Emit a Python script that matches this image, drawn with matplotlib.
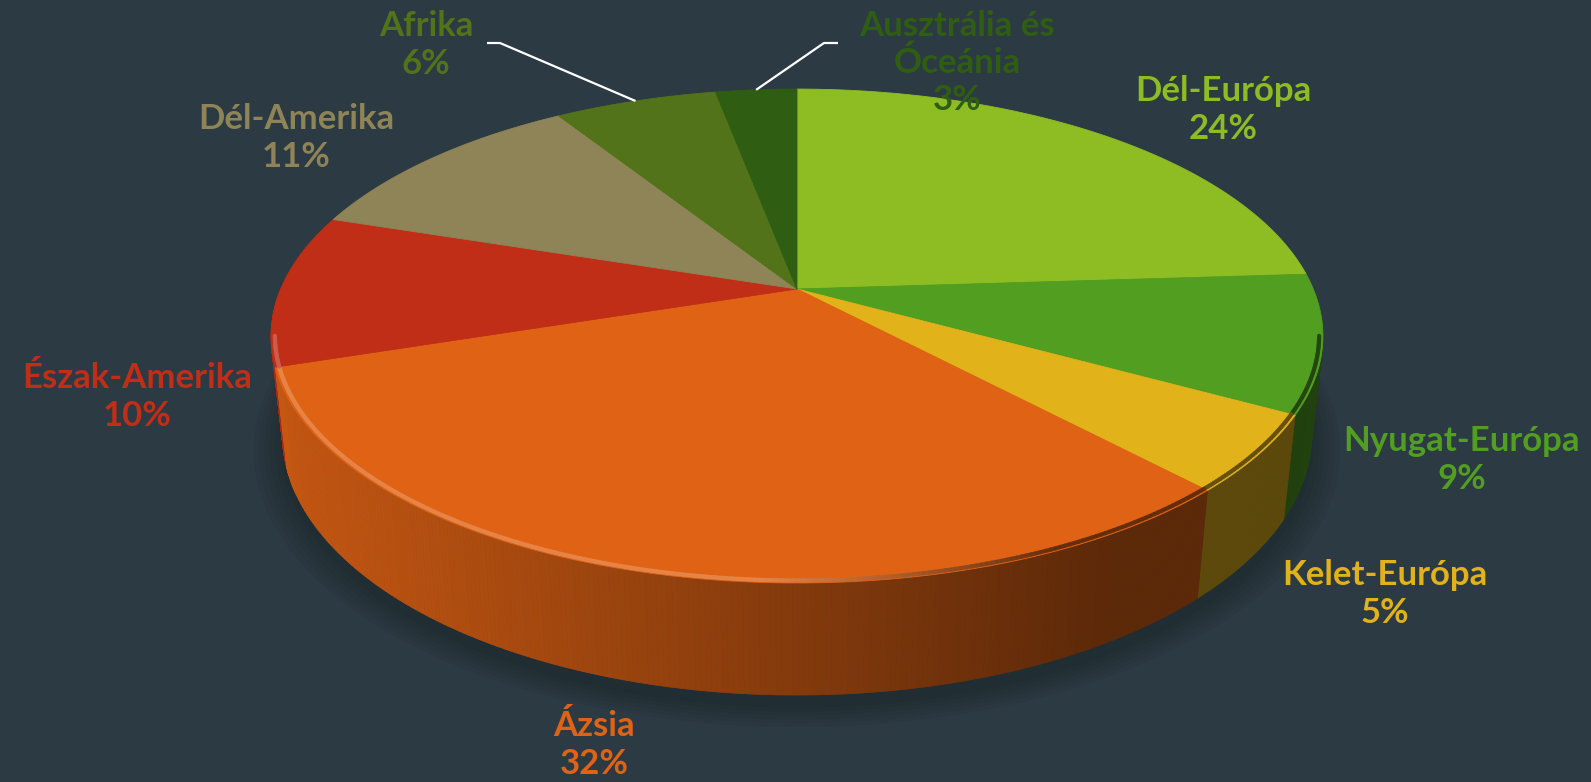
import numpy as np
import matplotlib
matplotlib.use('Agg')
import matplotlib.pyplot as plt
from matplotlib.collections import PolyCollection, LineCollection
from matplotlib.patches import Polygon
from matplotlib.colors import to_rgb

# ---------------- data ----------------
categories = ['Dél-Európa', 'Nyugat-Európa', 'Kelet-Európa', 'Ázsia',
              'Észak-Amerika', 'Dél-Amerika', 'Afrika', 'Ausztrália és\nÓceánia']
values = [24, 9, 5, 32, 10, 11, 6, 3]
colors = ['#8dbd23', '#519e21', '#e2b21a', '#e06315',
          '#c02e17', '#8e8457', '#527319', '#2f5e12']

# ---------------- layout / style ----------------
label_pos = [(1223, 110), (1462, 460), (1385, 594), (594, 745),
             (137, 397), (296, 138), (426, 45), (957, 63)]
leader_start = {6: [(487, 43), (500, 43)], 7: [(838, 43), (824, 43)]}
BG = '#2c3a43'
W, H = 1591, 782
CX, CY = 797, 289
F, D = 2406.0, 4.66
ELEV = np.deg2rad(27.45)
THICK = 0.217
S, A = np.sin(ELEV), np.cos(ELEV)


def proj(x, y, z):
    depth = D + y * A - z * S
    X = CX + F * x / depth
    Y = CY - F * (y * S + z * A) / depth
    return X, Y


def shade(X):
    return np.clip(0.87 - (X - 290) * 0.000556, 0.41, 0.9)


fig = plt.figure(figsize=(W / 100, H / 100), dpi=100, facecolor=BG)
ax = fig.add_axes([0, 0, 1, 1])
ax.set_xlim(0, W)
ax.set_ylim(H, 0)
ax.axis('off')
ax.set_facecolor(BG)

vals = np.array(values, dtype=float)
frac = vals / vals.sum()
cum = np.concatenate([[0], np.cumsum(frac)])
starts = 90 - 360 * cum[:-1]
ends = 90 - 360 * cum[1:]

# soft shadow under the pie
tt = np.deg2rad(np.linspace(0, 360, 361))
for r in np.linspace(1.05, 1.0, 6):
    xs, ys = proj(r * np.cos(tt), r * np.sin(tt) - 0.02, -THICK)
    ax.add_patch(Polygon(np.column_stack([xs, ys + 5]), closed=True,
                         facecolor='black', edgecolor='none', alpha=0.035, zorder=1))

# side walls (front half only)
quads, qcols, qkey = [], [], []
for i in range(len(values)):
    lo, hi = max(ends[i], -180), min(starts[i], 0)
    if hi <= lo:
        continue
    n = max(2, int((hi - lo) / 0.5) + 1)
    t = np.deg2rad(np.linspace(lo, hi, n))
    base = np.array(to_rgb(colors[i]))
    for j in range(n - 1):
        t0, t1 = t[j], t[j + 1]
        x0, y0 = proj(np.cos(t0), np.sin(t0), 0)
        x1, y1 = proj(np.cos(t1), np.sin(t1), 0)
        x2, y2 = proj(np.cos(t1), np.sin(t1), -THICK)
        x3, y3 = proj(np.cos(t0), np.sin(t0), -THICK)
        quads.append([(x0, y0), (x1, y1), (x2, y2), (x3, y3)])
        qcols.append(tuple(base * shade((x0 + x1) / 2)))
        qkey.append(np.sin((t0 + t1) / 2))
order = np.argsort(qkey)[::-1]
pc = PolyCollection([quads[k] for k in order], facecolors=[qcols[k] for k in order],
                    edgecolors=[qcols[k] for k in order], linewidths=0.6, zorder=2)
ax.add_collection(pc)

# top faces
for i in range(len(values)):
    n = max(3, int(abs(starts[i] - ends[i]) / 0.5) + 1)
    t = np.deg2rad(np.linspace(starts[i], ends[i], n))
    xs, ys = proj(np.cos(t), np.sin(t), 0 * t)
    cx0, cy0 = proj(0, 0, 0)
    pts = np.column_stack([np.concatenate([[cx0], xs]), np.concatenate([[cy0], ys])])
    ax.add_patch(Polygon(pts, closed=True, facecolor=colors[i], edgecolor=colors[i],
                         linewidth=0.6, zorder=3))

# bevel rim along the front top edge
segs, scol = [], []
for i in range(len(values)):
    lo, hi = max(ends[i], -169), min(starts[i], -11)
    if hi <= lo:
        continue
    n = max(2, int((hi - lo) / 0.5) + 1)
    t = np.deg2rad(np.linspace(lo, hi, n))
    xs, ys = proj(0.993 * np.cos(t), 0.993 * np.sin(t), 0 * t)
    base = np.array(to_rgb(colors[i]))
    light = base + (1 - base) * 0.22
    dark = base * 0.45
    for j in range(n - 1):
        xm = (xs[j] + xs[j + 1]) / 2
        w = np.clip((xm - 760) / 300, 0, 1)
        segs.append([(xs[j], ys[j]), (xs[j + 1], ys[j + 1])])
        scol.append(tuple((1 - w) * light + w * dark) + (0.95,))
ax.add_collection(LineCollection(segs, colors=scol, linewidths=3.0, zorder=4,
                                 capstyle='round'))

# labels
for i in range(len(values)):
    lx, ly = label_pos[i]
    ax.text(lx, ly, f'{categories[i]}\n{values[i]}%', ha='center', va='center',
            color=colors[i], fontsize=25, fontweight='bold', family='Lato',
            linespacing=1.2, zorder=6)

# leader lines
for i, pts in leader_start.items():
    mid = np.deg2rad((starts[i] + ends[i]) / 2)
    ex, ey = proj(np.cos(mid), np.sin(mid), 0)
    xs = [p[0] for p in pts] + [ex]
    ys = [p[1] for p in pts] + [ey]
    ax.plot(xs, ys, color='white', lw=1.6, zorder=5, solid_capstyle='butt')

fig.savefig('out.png', dpi=100, facecolor=BG)
